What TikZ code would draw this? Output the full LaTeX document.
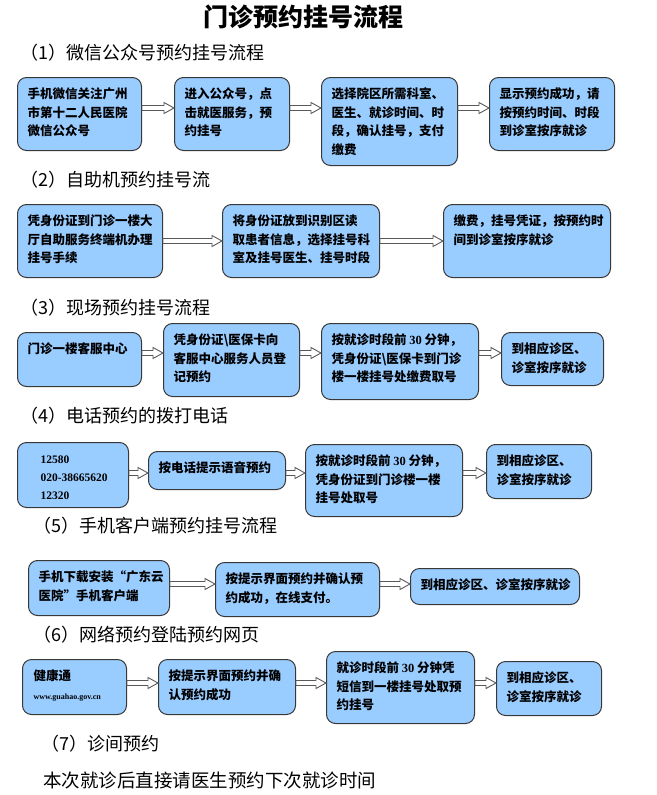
\documentclass[tikz,border=0pt]{standalone}
\usepackage{fontspec}
\setmainfont{Liberation Serif}
\newfontfamily\cjk{Noto Sans CJK SC}
\usetikzlibrary{calc}
\definecolor{boxblue}{RGB}{153,204,255}
\definecolor{boxline}{RGB}{56,56,56}
% text cell: [left pad]{width}{height}{lines}
\newcommand{\cell}[4][10pt]{\parbox[c][#3][t]{#2}{\leftskip=#1\rule{0pt}{21pt}#4}}
\newcommand{\num}[1]{{\rmfamily #1}}
\tikzset{
  box/.style={draw=boxline, fill=boxblue, line width=1pt, rounded corners=9pt,
    inner sep=0pt, anchor=north west, font=\cjk\bfseries\fontsize{12.5pt}{18.5pt}\selectfont},
  head/.style={anchor=west, inner sep=0pt, font=\cjk\fontsize{18pt}{20pt}\selectfont},
  arrbody/.style={draw=gray!70!black, fill=white, line width=0.9pt, line join=miter}
}
\begin{document}
\begin{tikzpicture}[x=1pt,y=-1pt]
  \useasboundingbox (0,0) rectangle (656,795);
  \node[font=\cjk\bfseries\fontsize{25pt}{28pt}\selectfont] (title) at (303,17) {门诊预约挂号流程};

  % (1)
  \node[head] (h1) at (20,53) {（1）微信公众号预约挂号流程};
  \node[box] (w1) at (17,77) {\cell{124pt}{73pt}{手机微信关注广州\\市第十二人民医院\\微信公众号}};
  \node[box] (w2) at (174,77) {\cell{115pt}{73pt}{进入公众号，点\\击就医服务，预\\约挂号}};
  \node[box] (w3) at (321,77) {\cell{136pt}{88pt}{选择院区所需科室、\\医生、就诊时间、时\\段，确认挂号，支付\\缴费}};
  \node[box] (w4) at (489,77) {\cell{125pt}{73pt}{显示预约成功，请\\按预约时间、时段\\到诊室按序就诊}};

  % (2)
  \node[head] (h2) at (20,180) {（2）自助机预约挂号流};
  \node[box] (z1) at (17,204) {\cell{145pt}{73pt}{凭身份证到门诊一楼大\\厅自助服务终端机办理\\挂号手续}};
  \node[box] (z2) at (222,204) {\cell{157pt}{73pt}{将身份证放到识别区读\\取患者信息，选择挂号科\\室及挂号医生、挂号时段}};
  \node[box] (z3) at (443,204) {\cell{167pt}{73pt}{缴费，挂号凭证，按预约时\\间到诊室按序就诊}};

  % (3)
  \node[head] (h3) at (20,308) {（3）现场预约挂号流程};
  \node[box] (x1) at (17,332) {\cell{124pt}{54pt}{门诊一楼客服中心}};
  \node[box] (x2) at (163,323) {\cell{136pt}{73pt}{凭身份证\textbackslash 医保卡向\\客服中心服务人员登\\记预约}};
  \node[box] (x3) at (321,323) {\cell{157pt}{76pt}{按就诊时段前 \num{30} 分钟，\\凭身份证\textbackslash 医保卡到门诊\\楼一楼挂号处缴费取号}};
  \node[box] (x4) at (501,332) {\cell{102pt}{53pt}{到相应诊区、\\诊室按序就诊}};

  % (4)
  \node[head] (h4) at (20,416) {（4）电话预约的拨打电话};
  \node[box] (d1) at (17,442) {\cell[23pt]{111pt}{65pt}{\rmfamily\fontsize{11.5pt}{18pt}\selectfont 12580\\020-38665620\\12320}};
  \node[box] (d2) at (148,451) {\cell{137pt}{38pt}{按电话提示语音预约}};
  \node[box] (d3) at (305,444) {\cell{157pt}{72pt}{按就诊时段前 \num{30} 分钟，\\凭身份证到门诊楼一楼\\挂号处取号}};
  \node[box] (d4) at (486,444) {\cell{105pt}{54pt}{到相应诊区、\\诊室按序就诊}};

  % (5)
  \node[head] (h5) at (33,526) {（5）手机客户端预约挂号流程};
  \node[box] (m1) at (28,560) {\cell{141pt}{55pt}{手机下载安装“广东云\\医院”手机客户端}};
  \node[box] (m2) at (215,562) {\cell{164pt}{54pt}{按提示界面预约并确认预\\约成功，在线支付。}};
  \node[box] (m3) at (410,568) {\cell{169pt}{36pt}{到相应诊区、诊室按序就诊}};

  % (6)
  \node[head] (h6) at (33,635) {（6）网络预约登陆预约网页};
  \node[box] (n1) at (22,659) {\cell[11pt]{104pt}{55pt}{健康通\\{\rmfamily\fontsize{8pt}{10pt}\selectfont www.guahao.gov.cn}}};
  \node[box] (n2) at (158,659) {\cell{137pt}{55pt}{按提示界面预约并确\\认预约成功}};
  \node[box] (n3) at (326,651) {\cell{148pt}{72pt}{就诊时段前 \num{30} 分钟凭\\短信到一楼挂号处取预\\约挂号}};
  \node[box] (n4) at (496,661) {\cell{105pt}{54pt}{到相应诊区、\\诊室按序就诊}};

  % (7)
  \node[head] (h7) at (41,744) {（7）诊间预约};
  \node[head, font=\cjk\fontsize{18.5pt}{20pt}\selectfont] (last) at (43,780) {本次就诊后直接请医生预约下次就诊时间};

  % arrow heights per row
  \coordinate (r1) at (0,108);
  \coordinate (r2) at (0,241);
  \coordinate (r3) at (0,353);
  \coordinate (r4) at (0,473);
  \coordinate (r5) at (0,584);
  \coordinate (r6) at (0,683);

  \foreach \a/\b/\r in {w1/w2/r1, w2/w3/r1, w3/w4/r1, z1/z2/r2, z2/z3/r2,
      x1/x2/r3, x2/x3/r3, x3/x4/r3, d1/d2/r4, d2/d3/r4, d3/d4/r4,
      m1/m2/r5, m2/m3/r5, n1/n2/r6, n2/n3/r6, n3/n4/r6} {
    \coordinate (s) at (\a.east |- \r);
    \coordinate (e) at (\b.west |- \r);
    \draw[arrbody] ($(s)+(0,-2.5)$) -- ($(e)+(-10,-2.5)$) -- ++(0,-3) -- (e)
      -- ($(e)+(-10,5.5)$) -- ++(0,-3) -- ($(s)+(0,2.5)$) -- cycle;
  }
\end{tikzpicture}
\end{document}
